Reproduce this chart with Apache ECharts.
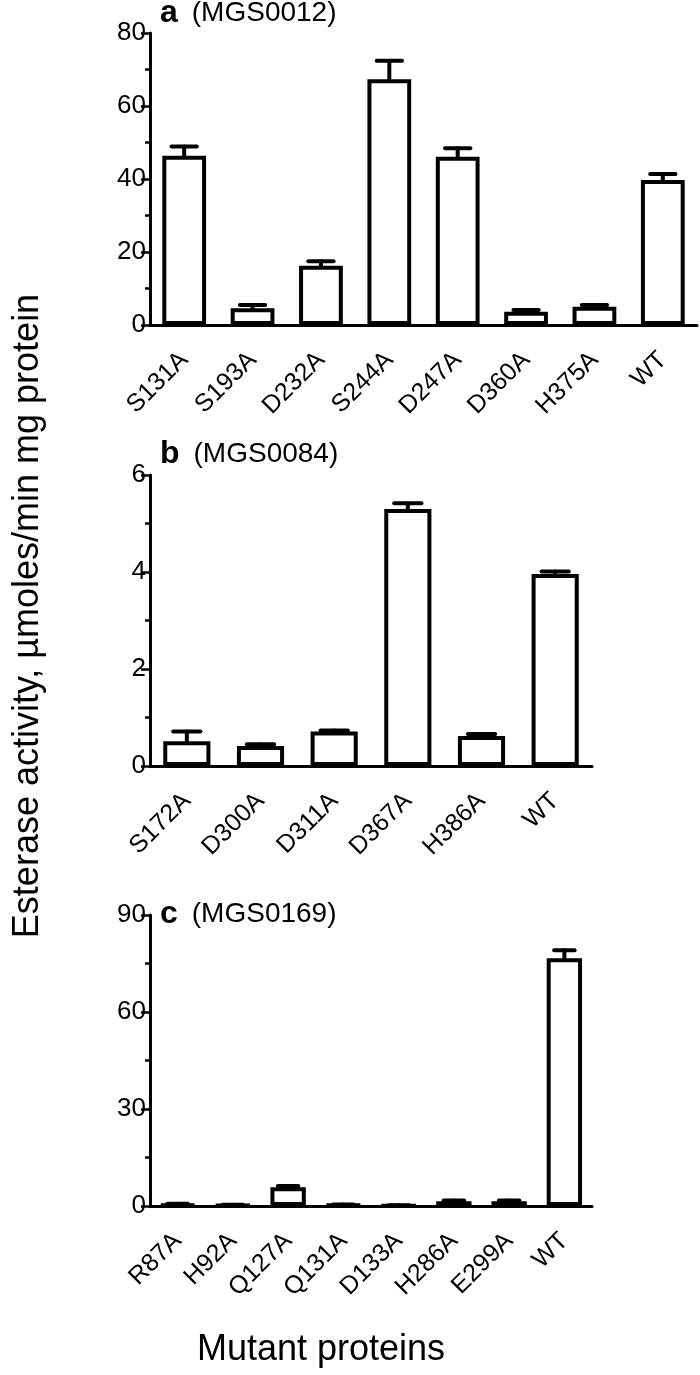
<!DOCTYPE html>
<html>
<head>
<meta charset="utf-8">
<script src="https://cdn.jsdelivr.net/npm/echarts@6/dist/echarts.min.js"></script>
<style>
  html, body { margin: 0; padding: 0; background: #fff; }
  #chart { width: 700px; height: 1375px; }
</style>
</head>
<body>
<div id="chart"></div>
<script>
// panel a (MGS0012)
const catsA = ['S131A', 'S193A', 'D232A', 'S244A', 'D247A', 'D360A', 'H375A', 'WT'];
const meanA = [46.4, 4.6, 16.2, 67.3, 46.1, 3.6, 5.0, 39.7];
const errA = [2.5, 0.9, 1.3, 5.1, 2.3, 0.5, 0.5, 1.7];
// panel b (MGS0084)
const catsB = ['S172A', 'D300A', 'D311A', 'D367A', 'H386A', 'WT'];
const meanB = [0.51, 0.41, 0.71, 5.3, 0.62, 3.96];
const errB = [0.2, 0.04, 0.02, 0.12, 0.04, 0.05];
// panel c (MGS0169)
const catsC = ['R87A', 'H92A', 'Q127A', 'Q131A', 'D133A', 'H286A', 'E299A', 'WT'];
const meanC = [0.5, 0.3, 5.8, 0.4, 0.2, 1.5, 1.5, 76.6];
const errC = [0.2, 0.1, 0.4, 0.1, 0.05, 0.2, 0.2, 2.5];
// y axis ranges
const yMax = [80, 6, 90];
const yStep = [20, 2, 30];

const FONT = 'Liberation Sans, Arial, sans-serif';

const grids = [
  {left: 150, top: 33, width: 547, height: 292},
  {left: 150, top: 475, width: 442, height: 291},
  {left: 150, top: 915, width: 442, height: 291}
];

function xAx(i, cats) {
  return {
    type: 'category', gridIndex: i, data: cats,
    axisLine: {lineStyle: {color: '#000', width: 3}},
    axisTick: {alignWithLabel: true, length: 9, lineStyle: {color: '#000', width: 2.5}},
    axisLabel: {rotate: 45, color: '#000', fontSize: 25, fontFamily: FONT, margin: 31}
  };
}
function yAx(i) {
  return {
    type: 'value', gridIndex: i, min: 0, max: yMax[i], interval: yStep[i],
    axisLine: {show: true, lineStyle: {color: '#000', width: 3}},
    axisTick: {show: true, length: 9, lineStyle: {color: '#000', width: 2.5}},
    minorTick: {show: true, splitNumber: 2, length: 5, lineStyle: {color: '#000', width: 2.5}},
    splitLine: {show: false},
    axisLabel: {color: '#000', fontSize: 26, fontFamily: FONT, margin: 4}
  };
}
function barSeries(i, vals) {
  return {
    type: 'bar', xAxisIndex: i, yAxisIndex: i, data: vals, barWidth: '64%',
    itemStyle: {color: '#fff', borderColor: '#000', borderWidth: 4},
    silent: true, z: 2
  };
}
function errSeries(i, vals, errs) {
  return {
    type: 'custom', xAxisIndex: i, yAxisIndex: i, z: 3, silent: true,
    data: vals.map((v, k) => [k, v, v + errs[k]]),
    renderItem: function (params, api) {
      const lo = api.coord([api.value(0), api.value(1)]);
      const hi = api.coord([api.value(0), api.value(2)]);
      const half = api.size([1, 0])[0] * 0.185;
      const st = {stroke: '#000', lineWidth: 4, lineCap: 'round'};
      return {
        type: 'group',
        children: [
          {type: 'line', shape: {x1: lo[0], y1: lo[1], x2: hi[0], y2: hi[1]}, style: st},
          {type: 'line', shape: {x1: hi[0] - half, y1: hi[1], x2: hi[0] + half, y2: hi[1]}, style: st}
        ]
      };
    }
  };
}
function panelTitle(letter, name, baseline) {
  return {
    type: 'text', x: 160, y: baseline,
    style: {
      text: '{b|' + letter + '}{n|(' + name + ')}',
      verticalAlign: 'bottom',
      rich: {
        b: {fontSize: 32, fontWeight: 'bold', fontFamily: FONT, fill: '#000', padding: [0, 14, 0, 0]},
        n: {fontSize: 28, fontFamily: FONT, fill: '#000'}
      }
    }
  };
}

const chart = echarts.init(document.getElementById('chart'));
chart.setOption({
  animation: false,
  backgroundColor: '#fff',
  grid: grids,
  xAxis: [xAx(0, catsA), xAx(1, catsB), xAx(2, catsC)],
  yAxis: [yAx(0), yAx(1), yAx(2)],
  series: [
    barSeries(0, meanA), errSeries(0, meanA, errA),
    barSeries(1, meanB), errSeries(1, meanB, errB),
    barSeries(2, meanC), errSeries(2, meanC, errC)
  ],
  graphic: [
    panelTitle('a', 'MGS0012', 29),
    panelTitle('b', 'MGS0084', 470),
    panelTitle('c', 'MGS0169', 930),
    {
      type: 'text', x: 28, y: 616, rotation: Math.PI / 2,
      style: {
        text: 'Esterase activity, \u00b5moles/min mg protein',
        fontSize: 36, fontFamily: FONT, fill: '#000',
        align: 'center', verticalAlign: 'middle'
      }
    },
    {
      type: 'text', x: 321, y: 1350,
      style: {
        text: 'Mutant proteins', fontSize: 36, fontFamily: FONT, fill: '#000',
        align: 'center', verticalAlign: 'middle'
      }
    }
  ]
});
</script>
</body>
</html>
